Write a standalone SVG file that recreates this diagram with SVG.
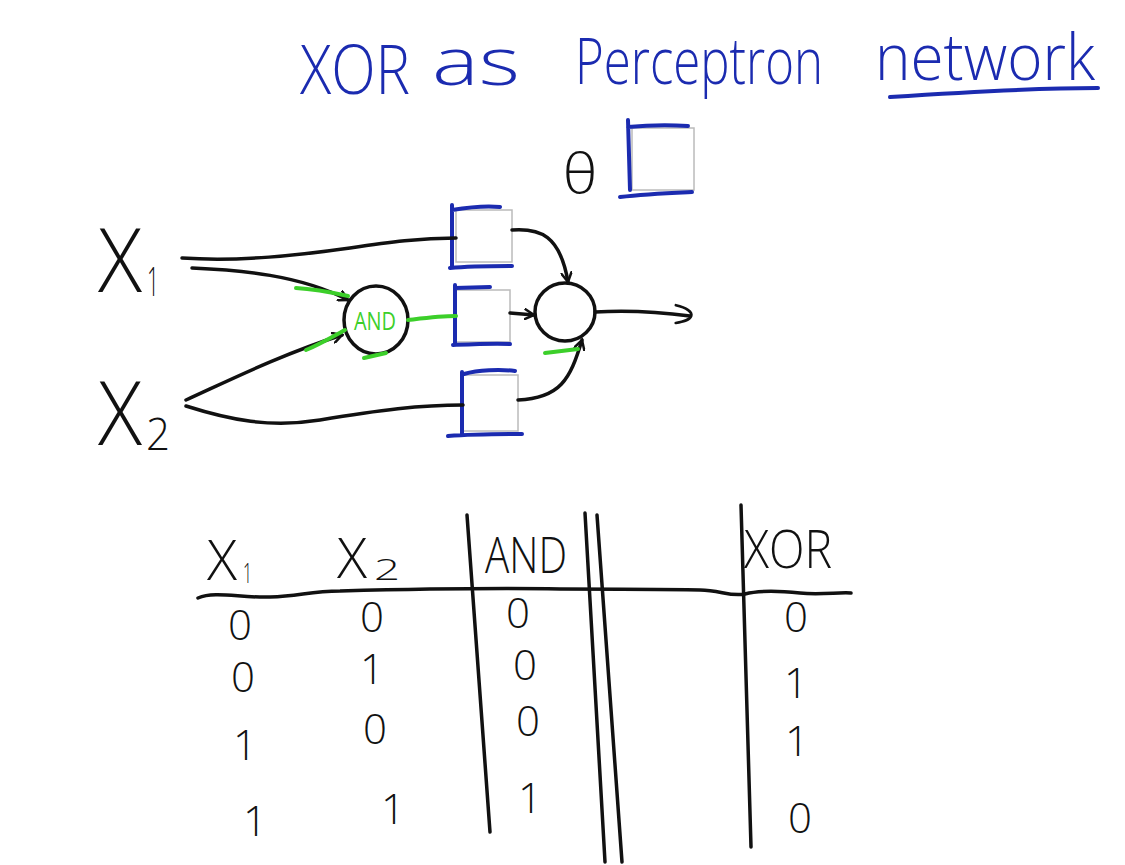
<svg xmlns="http://www.w3.org/2000/svg" width="1125" height="865" viewBox="0 0 1125 865">
<style>
.hand{font-family:"Open Sans","DejaVu Sans",sans-serif;font-weight:300;fill:#111}
.blue{fill:#1b2bb0}
.ln{fill:none;stroke:#111;stroke-width:3.5;stroke-linecap:round;stroke-linejoin:round}
.bl{fill:none;stroke:#1b2bb0;stroke-width:4;stroke-linecap:round}
.gr{fill:none;stroke:#3ccf2a;stroke-width:4;stroke-linecap:round}
.box{fill:#fff;stroke:#bbb;stroke-width:1.5}
</style>
<defs>
<marker id="ah" viewBox="0 0 12 12" refX="10" refY="6" markerWidth="12" markerHeight="12" markerUnits="userSpaceOnUse" orient="auto">
<path d="M1,1 L10,6 L1,11" fill="none" stroke="#111" stroke-width="2.5" stroke-linecap="round"/>
</marker>
<marker id="ahbig" viewBox="0 0 20 20" refX="16" refY="10" markerWidth="22" markerHeight="22" markerUnits="userSpaceOnUse" orient="auto">
<path d="M2,2 C12,3 18,6 17,10 C16,14 10,16 4,18" fill="none" stroke="#111" stroke-width="2.5" stroke-linecap="round"/>
</marker>
</defs>
<rect width="1125" height="865" fill="#fff"/>

<g id="title">
<text class="hand blue" x="300" y="94" font-size="68" textLength="110" lengthAdjust="spacingAndGlyphs">XOR</text>
<text class="hand blue" x="432" y="85" font-size="66" textLength="88" lengthAdjust="spacingAndGlyphs">as</text>
<text class="hand blue" x="575" y="84" font-size="64" textLength="248" lengthAdjust="spacingAndGlyphs">Perceptron</text>
<text class="hand blue" x="875" y="80" font-size="64" textLength="220" lengthAdjust="spacingAndGlyphs">network</text>
<path class="bl" d="M890,97 C950,93 1030,88 1098,88"/>
</g>

<g id="theta">
<text class="hand" x="563" y="193" font-size="56" textLength="34" lengthAdjust="spacingAndGlyphs">θ</text>
<rect class="box" x="632" y="128" width="62" height="62"/>
<path class="bl" d="M628,120 L630,190 M628,127 C650,125 670,125 688,126 M620,197 C645,194 670,193 692,192"/>
</g>

<g id="x1">
<text class="hand" x="98" y="292" font-size="88" textLength="44" lengthAdjust="spacingAndGlyphs">X</text>
<text class="hand" x="147" y="296" font-size="40" textLength="12" lengthAdjust="spacingAndGlyphs">1</text>
</g>
<g id="x2">
<text class="hand" x="98" y="445" font-size="88" textLength="44" lengthAdjust="spacingAndGlyphs">X</text>
<text class="hand" x="146" y="450" font-size="44" textLength="24" lengthAdjust="spacingAndGlyphs">2</text>
</g>

<g id="and-node">
<ellipse cx="376" cy="320" rx="32" ry="34" fill="#fff" stroke="#111" stroke-width="3.5"/>
<text x="375" y="330" font-family="Open Sans,DejaVu Sans,sans-serif" font-size="26" fill="#3ccf2a" text-anchor="middle" textLength="42" lengthAdjust="spacingAndGlyphs">AND</text>
</g>

<g id="w1">
<rect class="box" x="456" y="210" width="56" height="52"/>
<path class="bl" d="M452,205 L452,268 M452,210 C470,207 490,206 500,207 M450,268 C470,266 490,266 512,266"/>
</g>
<g id="w-and">
<rect class="box" x="456" y="290" width="54" height="52"/>
<path class="bl" d="M455,285 L455,345 M455,288 L490,287 M453,345 C475,344 495,343 510,344"/>
</g>
<g id="w2">
<rect class="box" x="463" y="375" width="55" height="56"/>
<path class="bl" d="M462,372 L462,435 M464,374 C478,370 500,369 515,371 M448,436 C475,434 500,434 522,434"/>
</g>

<g id="out-node">
<ellipse cx="565" cy="312" rx="30" ry="29" fill="#fff" stroke="#111" stroke-width="3.5"/>
</g>

<g id="connectors">
<path class="ln" d="M182,258 C240,262 300,255 350,248 C390,242 420,238 456,238"/>
<path class="ln" d="M192,268 C240,270 300,275 348,300" marker-end="url(#ah)"/>
<path class="ln" d="M186,400 C230,380 280,355 342,335" marker-end="url(#ah)"/>
<path class="ln" d="M186,406 C230,420 270,428 320,420 C380,410 420,405 463,405"/>
<path class="gr" d="M408,320 C425,318 440,316 456,316"/>
<path class="ln" d="M512,230 C540,228 560,235 568,282" marker-end="url(#ah)"/>
<path class="ln" d="M510,313 L534,315" marker-end="url(#ah)"/>
<path class="ln" d="M518,400 C560,398 570,380 582,340" marker-end="url(#ah)"/>
<path class="ln" d="M595,312 C630,310 660,312 690,316" marker-end="url(#ahbig)"/>
<path class="gr" d="M296,288 C315,289 330,292 348,296"/>
<path class="gr" d="M306,350 C320,344 330,338 345,330"/>
<path class="gr" d="M364,358 L386,353"/>
<path class="gr" d="M545,353 L578,349"/>
</g>

<g id="table">
<path class="ln" d="M198,598 C215,591 240,598 270,597 C300,596 310,591 340,591 C420,589 500,588 560,589 C610,589 650,589 700,590 C720,590 730,597 745,594 C760,590 780,591 800,593 C820,595 840,592 851,593"/>
<path class="ln" d="M467,515 L490,832"/>
<path class="ln" d="M585,513 L605,862"/>
<path class="ln" d="M597,515 L622,862"/>
<path class="ln" d="M741,505 L751,847"/>
<text class="hand" x="207" y="580" font-size="56" textLength="30" lengthAdjust="spacingAndGlyphs">X</text>
<text class="hand" x="243" y="583" font-size="28" textLength="9" lengthAdjust="spacingAndGlyphs">1</text>
<text class="hand" x="337" y="578" font-size="56" textLength="30" lengthAdjust="spacingAndGlyphs">X</text>
<text class="hand" x="374" y="580" font-size="30" textLength="26" lengthAdjust="spacingAndGlyphs">2</text>
<text class="hand" x="485" y="573" font-size="50" textLength="82" lengthAdjust="spacingAndGlyphs">AND</text>
<text class="hand" x="744" y="568" font-size="54" textLength="88" lengthAdjust="spacingAndGlyphs">XOR</text>
<g font-size="42" text-anchor="middle">
<text class="hand" x="240" y="640">0</text>
<text class="hand" x="243" y="692">0</text>
<text class="hand" x="245" y="760">1</text>
<text class="hand" x="255" y="836">1</text>
<text class="hand" x="372" y="632">0</text>
<text class="hand" x="372" y="684">1</text>
<text class="hand" x="375" y="744">0</text>
<text class="hand" x="393" y="824">1</text>
<text class="hand" x="518" y="628">0</text>
<text class="hand" x="525" y="680">0</text>
<text class="hand" x="528" y="736">0</text>
<text class="hand" x="530" y="813">1</text>
<text class="hand" x="796" y="632">0</text>
<text class="hand" x="796" y="698">1</text>
<text class="hand" x="797" y="756">1</text>
<text class="hand" x="800" y="833">0</text>
</g>
</g>
</svg>
